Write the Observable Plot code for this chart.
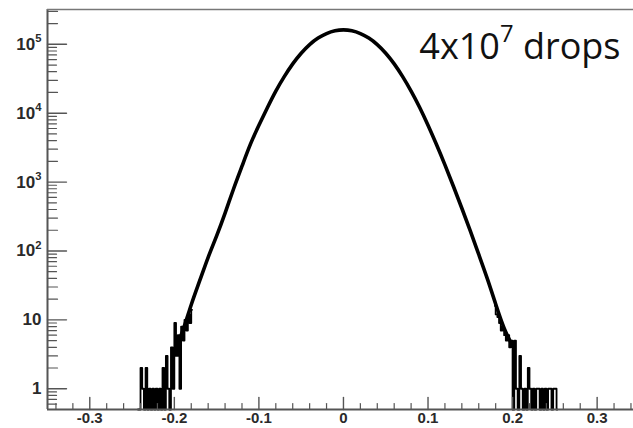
<!DOCTYPE html>
<html>
<head>
<meta charset="utf-8">
<script src="https://cdn.jsdelivr.net/npm/d3@7"></script>
<script src="https://cdn.jsdelivr.net/npm/@observablehq/plot@0.6"></script>
<style>
  html, body { margin: 0; padding: 0; background: #fff; }
  #chart { width: 633px; height: 428px; overflow: hidden; }
</style>
</head>
<body>
<div id="chart"></div>
<script>
// ---- data ----
// smooth central part of the histogram (bin position, counts)
const coreX = [-0.20,-0.19,-0.18,-0.17,-0.16,-0.15,-0.14,-0.13,-0.12,-0.11,-0.10,-0.09,-0.08,-0.07,-0.06,-0.05,-0.04,-0.03,-0.02,-0.01,
               0.00,0.01,0.02,0.03,0.04,0.05,0.06,0.07,0.08,0.09,0.10,0.11,0.12,0.13,0.14,0.15,0.16,0.17,0.18,0.19,0.20];
const coreCounts = [3.5,7,16.6,37,81,166,355,794,1700,3550,6680,12000,20900,33900,51900,74100,98900,123000,143000,157000,
                    162000,157000,143000,123000,98900,74100,51900,33900,20900,12200,6680,3510,1780,871,417,195,89,40,17,7.6,4.2];

// noisy tails, fine bins (bin width 0.002)
const tailBinWidth = 0.002;
const leftTailStart = -0.243;
const leftTailCounts = [0,0,2,1,0,2,0,1,0,1,0,1,0,1,0,2,0,3,1,0,4,1,9,3,6,1,8,5,10,7,12,9,14];
const rightTailStart = 0.179;
const rightTailCounts = [16,12,11,9,7,8,6,5,6,4,5,0,5,1,0,3,1,0,1,0,2,1,0,1,0,1,1,0,1,0,1,0,1,1,0,1,1,0];

// axes
const xDomain = [-0.35, 0.343];
const yDomain = [0.5, 3.2e5];
const xTickValues = [-0.3,-0.2,-0.1,0,0.1,0.2,0.3];
const xTickLabels = ["-0.3","-0.2","-0.1","0","0.1","0.2","0.3"];
const yTickValues = [1,10,100,1000,10000,100000];
const yTickLabels = ["1","10","10^2","10^3","10^4","10^5"];
const annotation = "4x10^7 drops";

// ---- build tables ----
const core = coreX.map((x, i) => ({x, c: coreCounts[i]}));
const leftTail = leftTailCounts.map((c, i) => ({x: leftTailStart + i * tailBinWidth, c}));
const rightTail = rightTailCounts.map((c, i) => ({x: rightTailStart + i * tailBinWidth, c}));

// tick positions
const xMinor = d3.range(-17, 18).map(k => k * 0.02).filter(v => Math.abs(Math.round(v * 10) - v * 10) > 1e-6 && v > xDomain[0] && v < xDomain[1]);
const yMinorLong = [], yMinorShort = [];
for (let e = -1; e <= 5; e++) {
  for (let k = 2; k <= 9; k++) {
    const v = k * Math.pow(10, e);
    if (v <= yDomain[0] || v >= yDomain[1]) continue;
    (k <= 3 ? yMinorLong : yMinorShort).push(v);
  }
}

const axisColor = "#555";
const tickLine = { draw(ctx, l) { ctx.moveTo(0, 0); ctx.lineTo(0, -l); } };
const yVal = d => Math.max(d.c, yDomain[0]);

const plot = Plot.plot({
  width: 633,
  height: 428,
  marginLeft: 47,
  marginRight: 0,
  marginTop: 9,
  marginBottom: 19,
  x: { domain: xDomain },
  y: { type: "log", domain: yDomain },
  style: { background: "#fff", color: "#2a2a2a", fontFamily: "'Liberation Sans', Arial, sans-serif" },
  marks: [
    // histogram
    Plot.line(leftTail, { x: "x", y: yVal, curve: "step", stroke: "#000", strokeWidth: 1.8 }),
    Plot.line(rightTail, { x: "x", y: yVal, curve: "step", stroke: "#000", strokeWidth: 1.8 }),
    Plot.line(core, { x: "x", y: "c", curve: "natural", stroke: "#000", strokeWidth: 3.6 }),
    // frame
    Plot.ruleX([xDomain[0]], { stroke: axisColor, strokeWidth: 2 }),
    Plot.ruleY([yDomain[0]], { stroke: axisColor, strokeWidth: 2 }),
    Plot.ruleY([yDomain[1]], { stroke: "#777", strokeWidth: 1.5 }),
    // y ticks (inward)
    Plot.vector(yTickValues, { y: d => d, frameAnchor: "left", rotate: 90, length: 19, anchor: "start", shape: tickLine, stroke: axisColor, strokeWidth: 1.4 }),
    Plot.vector(yMinorLong, { y: d => d, frameAnchor: "left", rotate: 90, length: 10, anchor: "start", shape: tickLine, stroke: axisColor, strokeWidth: 1.2 }),
    Plot.vector(yMinorShort, { y: d => d, frameAnchor: "left", rotate: 90, length: 9, anchor: "start", shape: tickLine, stroke: axisColor, strokeWidth: 1.2 }),
    // x ticks (inward)
    Plot.vector(xTickValues, { x: d => d, frameAnchor: "bottom", rotate: 0, length: 12, anchor: "start", shape: tickLine, stroke: axisColor, strokeWidth: 1.4 }),
    Plot.vector(xMinor, { x: d => d, frameAnchor: "bottom", rotate: 0, length: 6, anchor: "start", shape: tickLine, stroke: axisColor, strokeWidth: 1.2 }),
    // tick labels
    Plot.axisY(yTickValues, { tickSize: 0, tickPadding: 6, tickFormat: d => yTickLabels[yTickValues.indexOf(d)], fontWeight: "bold", fontSize: 17, label: null }),
    Plot.axisX(xTickValues, { tickSize: 0, tickPadding: 3, tickFormat: d => xTickLabels[xTickValues.indexOf(d)], fontWeight: "bold", fontSize: 15, label: null }),
    // annotation
    Plot.text([annotation], { text: d => d, frameAnchor: "top-right", dx: -13, dy: 24, textAnchor: "end", lineAnchor: "top", fontSize: 36, fontFamily: "'Open Sans', sans-serif", fill: "#111" })
  ]
});

// turn "a^b rest" into proper superscripts
plot.querySelectorAll("text").forEach(t => {
  const s = t.textContent;
  const m = s.match(/^(.*?)\^(\d+)(.*)$/);
  if (!m) return;
  const ns = "http://www.w3.org/2000/svg";
  t.textContent = m[1];
  const sup = document.createElementNS(ns, "tspan");
  sup.setAttribute("font-size", "66%");
  sup.setAttribute("dy", "-0.7em");
  sup.textContent = m[2];
  t.appendChild(sup);
  if (m[3]) {
    const rest = document.createElementNS(ns, "tspan");
    rest.setAttribute("dy", "0.46em");
    rest.textContent = m[3];
    t.appendChild(rest);
  }
});

document.getElementById("chart").appendChild(plot);
</script>
</body>
</html>
